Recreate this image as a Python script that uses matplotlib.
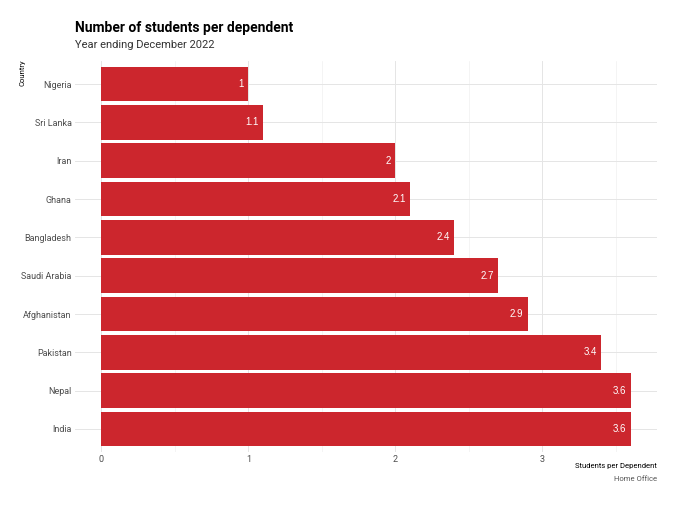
import matplotlib.pyplot as plt
from matplotlib.ticker import MultipleLocator

plt.rcParams['font.family'] = ['Roboto', 'DejaVu Sans']

countries = ['Nigeria', 'Sri Lanka', 'Iran', 'Ghana', 'Bangladesh',
             'Saudi Arabia', 'Afghanistan', 'Pakistan', 'Nepal', 'India']
ratio = [1.0, 1.1, 2.0, 2.1, 2.4, 2.7, 2.9, 3.4, 3.6, 3.6]
labels = ['1', '1.1', '2', '2.1', '2.4', '2.7', '2.9', '3.4', '3.6', '3.6']

bar_col = '#CC262D'

fig = plt.figure(figsize=(6.8, 5.05), dpi=100)
ax = fig.add_axes([0.1103, 0.105, 0.856, 0.774])

ypos = list(range(len(countries)))[::-1]
ax.barh(ypos, ratio, height=0.9, color=bar_col, zorder=2)

# value labels inside bar ends
for y, v, lab in zip(ypos, ratio, labels):
    ax.text(v - 0.03, y, lab, ha='right', va='center', color='white',
            fontsize=7, family='Liberation Sans', zorder=3)

ax.set_xlim(-0.18, 3.78)
ax.set_ylim(-0.6, len(countries) - 0.4)
ax.set_yticks(ypos)
ax.set_yticklabels(countries)
ax.xaxis.set_major_locator(MultipleLocator(1))
ax.xaxis.set_minor_locator(MultipleLocator(0.5))

ax.grid(True, which='major', color='#E5E5E5', linewidth=0.7, zorder=0)
ax.grid(True, which='minor', axis='x', color='#F0F0F0', linewidth=0.5, zorder=0)
for s in ax.spines.values():
    s.set_visible(False)
ax.tick_params(axis='both', which='both', length=0, labelsize=6.5, labelcolor='#4D4D4D', pad=2.5)

fig.text(0.1103, 0.944, 'Number of students per dependent', fontsize=10, fontweight='bold', ha='left', va='center')
fig.text(0.1103, 0.91, 'Year ending December 2022', fontsize=8, color='#333333', ha='left', va='center')
fig.text(0.033, 0.857, 'Country', fontsize=5.5, rotation=90, ha='center', va='center')
fig.text(0.966, 0.077, 'Students per Dependent', fontsize=5.5, ha='right', va='center')
fig.text(0.966, 0.051, 'Home Office', fontsize=5.5, color='#555555', ha='right', va='center')

fig.savefig('out.png', dpi=100)
